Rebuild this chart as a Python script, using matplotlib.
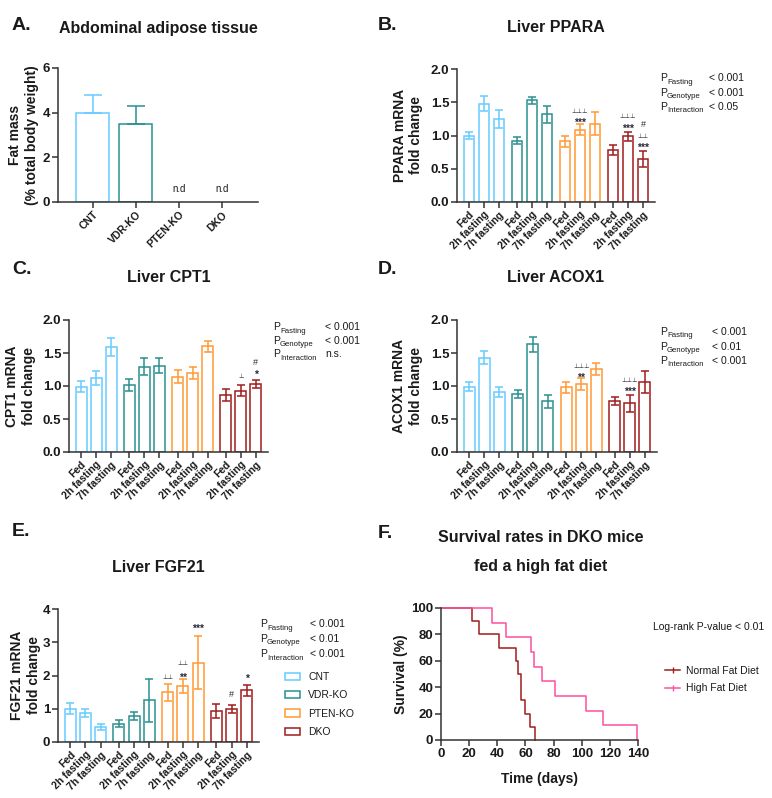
import matplotlib
matplotlib.use("Agg")
import matplotlib.pyplot as plt
from matplotlib.patches import Patch
from matplotlib.lines import Line2D
import numpy as np

plt.rcParams['font.family'] = ['Liberation Sans', 'DejaVu Sans']

# ---------------- data ----------------
groups = ['CNT', 'VDR-KO', 'PTEN-KO', 'DKO']
conditions = ['Fed', '2h fasting', '7h fasting']
group_colors = ['#66CCFF', '#2A9090', '#FF9933', '#A01C1C']

fat_mean = [4.0, 3.5, 0.0, 0.0]
fat_sem = [0.8, 0.8, 0.0, 0.0]
fat_nd = [False, False, True, True]

ppara_mean = [1.00, 1.48, 1.25, 0.92, 1.53, 1.32, 0.91, 1.09, 1.18, 0.78, 0.99, 0.64]
ppara_sem = [0.06, 0.11, 0.14, 0.05, 0.05, 0.13, 0.09, 0.08, 0.17, 0.07, 0.07, 0.12]
ppara_marks = [(7, '⊥⊥⊥', 1.36), (7, '***', 1.24), (10, '⊥⊥⊥', 1.28), (10, '***', 1.16),
               (11, '#', 1.17), (11, '⊥⊥', 0.99), (11, '***', 0.87)]
ppara_p = [('Fasting', '< 0.001'), ('Genotype', '< 0.001'), ('Interaction', '< 0.05')]

cpt1_mean = [0.99, 1.12, 1.59, 1.01, 1.29, 1.31, 1.14, 1.20, 1.60, 0.87, 0.93, 1.03]
cpt1_sem = [0.08, 0.10, 0.14, 0.09, 0.13, 0.11, 0.10, 0.09, 0.08, 0.09, 0.08, 0.06]
cpt1_marks = [(10, '⊥', 1.15), (11, '#', 1.35), (11, '*', 1.23)]
cpt1_p = [('Fasting', '< 0.001'), ('Genotype', '< 0.001'), ('Interaction', 'n.s.')]

acox1_mean = [0.99, 1.43, 0.91, 0.88, 1.63, 0.77, 0.98, 1.03, 1.26, 0.77, 0.74, 1.06]
acox1_sem = [0.07, 0.10, 0.08, 0.06, 0.12, 0.10, 0.08, 0.09, 0.09, 0.06, 0.13, 0.17]
acox1_marks = [(7, '⊥⊥⊥', 1.29), (7, '**', 1.18), (10, '⊥⊥⊥', 1.08), (10, '***', 0.96)]
acox1_p = [('Fasting', '< 0.001'), ('Genotype', '< 0.01'), ('Interaction', '< 0.001')]

fgf21_mean = [1.00, 0.87, 0.45, 0.55, 0.78, 1.25, 1.49, 1.68, 2.39, 0.94, 1.00, 1.55]
fgf21_sem = [0.17, 0.12, 0.09, 0.10, 0.12, 0.64, 0.25, 0.20, 0.80, 0.21, 0.12, 0.17]
fgf21_marks = [(6, '⊥⊥', 1.95), (7, '⊥⊥', 2.35), (7, '**', 2.05), (8, '***', 3.52),
               (10, '#', 1.44), (11, '*', 2.01)]
fgf21_p = [('Fasting', '< 0.001'), ('Genotype', '< 0.01'), ('Interaction', '< 0.001')]

nfd_death_days = [22, 27, 41, 53, 55, 57, 57, 60, 63, 67]
hfd_death_days = [36, 46, 64, 66, 72, 81, 103, 115, 139]
survival_labels = ['Normal Fat Diet', 'High Fat Diet']
survival_colors = ['#A01C1C', '#FF4FA0']

# ---------------- layout helpers ----------------
W, H = 772, 798
fig = plt.figure(figsize=(W / 100, H / 100), dpi=100)
TXT = '#1a1a1a'
SP = '#333333'
MARK = '#2a2a3a'


def px_axes(l, t, r, b):
    return fig.add_axes([l / W, 1 - b / H, (r - l) / W, (b - t) / H])


def ftext(x, y, s, **kw):
    kw.setdefault('color', TXT)
    return fig.text(x / W, 1 - y / H, s, **kw)


def style_axes(ax):
    for s in ['top', 'right']:
        ax.spines[s].set_visible(False)
    for s in ['left', 'bottom']:
        ax.spines[s].set_linewidth(1.1)
        ax.spines[s].set_color(SP)
    ax.tick_params(axis='both', direction='out', length=4, width=1.1, color=SP,
                   labelcolor=TXT, pad=1.5)
    for lab in ax.get_yticklabels():
        lab.set_fontweight('bold')


positions = []
for g in range(len(groups)):
    for c in range(len(conditions)):
        positions.append(g * 3.2 + c)
positions = np.array(positions)
bar_colors = [group_colors[g] for g in range(len(groups)) for _ in conditions]
xlabels = [c for _ in groups for c in conditions]


def add_mark(ax, x, y, s):
    if '⊥' in s:
        ax.annotate(s, (x, y), xytext=(0, 0), textcoords='offset points', ha='center',
                    va='center', fontsize=4.6, color=MARK, family='DejaVu Sans',
                    annotation_clip=False)
    elif '*' in s:
        ax.annotate(s, (x, y), xytext=(0, -2.6), textcoords='offset points', ha='center',
                    va='center', fontsize=7.5, fontweight='bold', color=MARK,
                    annotation_clip=False)
    else:
        ax.annotate(s, (x, y), xytext=(0, 0), textcoords='offset points', ha='center',
                    va='center', fontsize=6.5, color=MARK, annotation_clip=False)


def bar_panel(ax, means, sems, marks, ylim, yticks, yticklabels, ylabel, lcx):
    for x, m, e, col in zip(positions, means, sems, bar_colors):
        ax.bar(x, m, width=0.73, fill=False, edgecolor=col, linewidth=1.1, zorder=2)
        ax.errorbar(x, m, yerr=e, fmt='none', ecolor=col, elinewidth=1.1,
                    capsize=3.0, capthick=1.1, zorder=3, clip_on=False)
    for i, s, y in marks:
        add_mark(ax, positions[i], y, s)
    ax.set_xlim(-0.8, positions[-1] + 0.8)
    ax.set_ylim(*ylim)
    ax.set_yticks(yticks)
    ax.set_yticklabels(yticklabels, fontsize=9.5)
    ax.set_xticks(positions)
    ax.set_xticklabels(xlabels, rotation=45, ha='right', va='top',
                       rotation_mode='anchor', fontsize=7.5, fontweight='bold')
    style_axes(ax)
    ax.set_ylabel(ylabel, fontsize=10, fontweight='bold', color=TXT, linespacing=1.25)
    ax.yaxis.set_label_coords(lcx, 0.5)


def pvals(x, xv, ybases, items):
    for (name, val), yb in zip(items, ybases):
        ftext(x, yb, 'P', fontsize=7.5, va='baseline')
        ftext(x + 7, yb + 2.5, name, fontsize=5.6, va='baseline')
        ftext(xv, yb, val, fontsize=7.5, va='baseline')


# ---------------- A ----------------
axA = px_axes(58, 68, 258, 202)
xa = np.arange(len(groups))
for x, m, e, col, nd in zip(xa, fat_mean, fat_sem, group_colors, fat_nd):
    if nd:
        axA.text(x, 0.58, 'n.d', ha='center', va='center', fontsize=7, color=TXT)
        continue
    axA.bar(x, m, width=0.77, fill=False, edgecolor=col, linewidth=1.1, zorder=2)
    axA.errorbar(x, m, yerr=[[0], [e]], fmt='none', ecolor=col, elinewidth=1.1,
                 capsize=6.5, capthick=1.1, zorder=3)
axA.set_xlim(-0.81, 3.84)
axA.set_ylim(0, 6)
axA.set_yticks([0, 2, 4, 6])
axA.set_yticklabels(['0', '2', '4', '6'], fontsize=9.5)
axA.set_xticks(xa)
axA.set_xticklabels(groups, rotation=45, ha='right', va='top', rotation_mode='anchor',
                    fontsize=7.5, fontweight='bold')
style_axes(axA)
axA.set_ylabel('Fat mass\n(% total body weight)', fontsize=10, fontweight='bold',
               color=TXT, linespacing=1.25)
axA.yaxis.set_label_coords(-0.095, 0.5)

# ---------------- B ----------------
axB = px_axes(457, 69, 655, 202)
bar_panel(axB, ppara_mean, ppara_sem, ppara_marks, (0, 2), [0, 0.5, 1, 1.5, 2],
          ['0.0', '0.5', '1.0', '1.5', '2.0'], 'PPARA mRNA\nfold change', -0.17)
pvals(660, 709, [81, 95.5, 110], ppara_p)

# ---------------- C ----------------
axC = px_axes(69, 320, 268, 452)
bar_panel(axC, cpt1_mean, cpt1_sem, cpt1_marks, (0, 2), [0, 0.5, 1, 1.5, 2],
          ['0.0', '0.5', '1.0', '1.5', '2.0'], 'CPT1 mRNA\nfold change', -0.166)
pvals(273, 325, [330, 343.5, 357], cpt1_p)

# ---------------- D ----------------
axD = px_axes(457, 320, 657, 452)
bar_panel(axD, acox1_mean, acox1_sem, acox1_marks, (0, 2), [0, 0.5, 1, 1.5, 2],
          ['0.0', '0.5', '1.0', '1.5', '2.0'], 'ACOX1 mRNA\nfold change', -0.17)
pvals(660, 712, [335, 350, 364], acox1_p)

# ---------------- E ----------------
axE = px_axes(58, 609, 259, 742)
bar_panel(axE, fgf21_mean, fgf21_sem, fgf21_marks, (0, 4), [0, 1, 2, 3, 4],
          ['0', '1', '2', '3', '4'], 'FGF21 mRNA\nfold change', -0.085)
pvals(260, 310, [627, 642, 657], fgf21_p)
handlesE = [Patch(facecolor='none', edgecolor=c, linewidth=1.1) for c in group_colors]
fig.legend(handlesE, groups, loc='upper left', bbox_to_anchor=(285 / W, 1 - 672 / H),
           frameon=False, fontsize=7.5, handlelength=1.45, handleheight=0.7,
           labelspacing=0.8, handletextpad=0.8, borderpad=0, borderaxespad=0,
           labelcolor=TXT)

# ---------------- F ----------------
axF = px_axes(441, 608, 638, 740)
for days, col, lab in zip([nfd_death_days, hfd_death_days], survival_colors, survival_labels):
    d = np.sort(np.array(days, dtype=float))
    n = len(d)
    surv = 100.0 * (1 - np.arange(1, n + 1) / n)
    xs = np.concatenate([[0], d])
    ys = np.concatenate([[100], surv])
    axF.step(xs, ys, where='post', color=col, linewidth=1.1, clip_on=False, label=lab)
axF.set_xlim(0, 140)
axF.set_ylim(0, 100)
axF.set_xticks(np.arange(0, 141, 20))
axF.set_yticks(np.arange(0, 101, 20))
axF.set_xticklabels([str(v) for v in range(0, 141, 20)], fontsize=9.5, fontweight='bold')
axF.set_yticklabels([str(v) for v in range(0, 101, 20)], fontsize=9.5)
style_axes(axF)
axF.set_ylabel('Survival (%)', fontsize=10, fontweight='bold', color=TXT)
axF.yaxis.set_label_coords(-0.17, 0.5)
axF.set_xlabel('Time (days)', fontsize=10, fontweight='bold', color=TXT)
axF.xaxis.set_label_coords(0.5, -0.24)
handlesF = [Line2D([0], [0], color=c, linewidth=1.1, marker='|', markersize=4,
                   markeredgewidth=1.0) for c in survival_colors]
fig.legend(handlesF, survival_labels, loc='upper left', bbox_to_anchor=(665 / W, 1 - 666 / H),
           frameon=False, fontsize=7.5, handlelength=1.45, labelspacing=0.7,
           handletextpad=0.6, borderpad=0, borderaxespad=0, labelcolor=TXT)
ftext(653, 627, 'Log-rank P-value < 0.01', fontsize=7.5, va='center')

# ---------------- titles & panel letters ----------------
ftext(158, 28, 'Abdominal adipose tissue', fontsize=11.5, fontweight='bold', ha='center', va='center')
ftext(556, 28, 'Liver PPARA', fontsize=11.5, fontweight='bold', ha='center', va='center')
ftext(169, 277, 'Liver CPT1', fontsize=11.5, fontweight='bold', ha='center', va='center')
ftext(556, 277, 'Liver ACOX1', fontsize=11.5, fontweight='bold', ha='center', va='center')
ftext(158, 568, 'Liver FGF21', fontsize=11.5, fontweight='bold', ha='center', va='center')
ftext(541, 537, 'Survival rates in DKO mice', fontsize=11.5, fontweight='bold', ha='center', va='center')
ftext(541, 566, 'fed a high fat diet', fontsize=11.5, fontweight='bold', ha='center', va='center')

for letter, x, y in [('A.', 12, 25), ('B.', 378, 25), ('C.', 12, 270),
                     ('D.', 378, 270), ('E.', 12, 531), ('F.', 378, 533)]:
    ftext(x, y, letter, fontsize=14, fontweight='bold', ha='left', va='center')

fig.savefig('out.png', dpi=100)
